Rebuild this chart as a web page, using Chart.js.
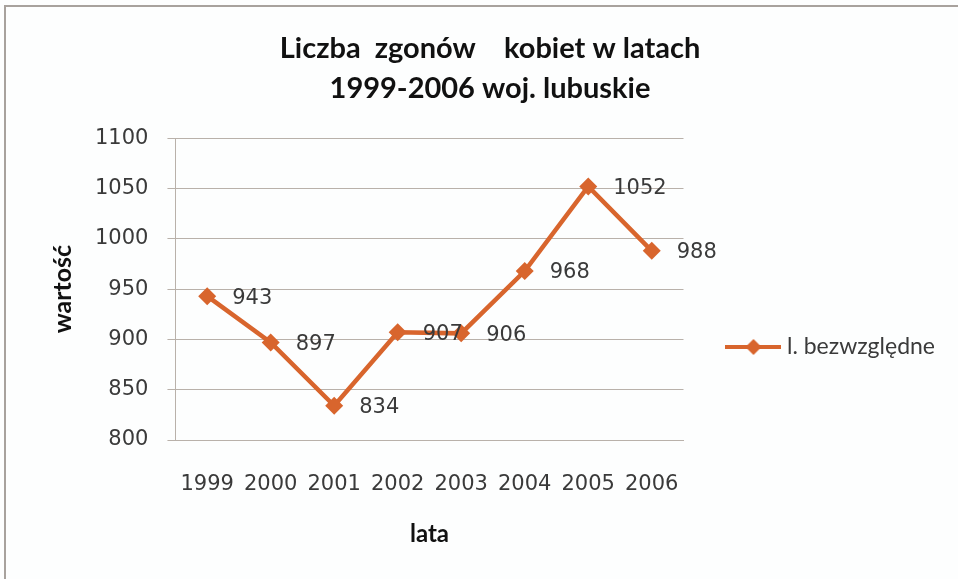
<!DOCTYPE html>
<html lang="pl">
<head>
  <meta charset="UTF-8">
  <title>Liczba zgonów kobiet</title>
  <script src="https://cdn.jsdelivr.net/npm/chart.js"></script>
  <style>
    html, body {
      margin: 0;
      padding: 0;
      background: #fdfefe;
    }
    .frame {
      position: absolute;
      left: 4px;
      top: 5px;
      width: 952px;
      height: 572px;
      border-left: 2px solid #a8a29d;
      border-top: 2px solid #a8a29d;
    }
    canvas {
      display: block;
    }
  </style>
</head>
<body>
  <div class="frame">
    <canvas id="chart" width="952" height="572"></canvas>
  </div>
  <script>
  // dane z wykresu
  const lata = ["1999", "2000", "2001", "2002", "2003", "2004", "2005", "2006"];
  const zgony = [943, 897, 834, 907, 906, 968, 1052, 988];
  const seriaNazwa = "l. bezwzględne";
  const tytul = ["Liczba  zgonów    kobiet w latach", "1999-2006 woj. lubuskie"];

  const kolor = "#d8652d";
  const siatka = "#b9b1aa";
  const tekst = "#3a3a3a";
  const numFont = "'DejaVu Sans', Verdana, sans-serif";
  const narrowFont = "'Liberation Sans Narrow', 'Arial Narrow', Lato, sans-serif";

  // znacznik legendy: linia z rombem
  function legendMarker() {
    const c = document.createElement("canvas");
    c.width = 56; c.height = 20;
    const g = c.getContext("2d");
    g.strokeStyle = kolor;
    g.lineWidth = 4;
    g.beginPath();
    g.moveTo(0, 10); g.lineTo(56, 10);
    g.stroke();
    g.fillStyle = kolor;
    g.beginPath();
    g.moveTo(28, 2); g.lineTo(36, 10); g.lineTo(28, 18); g.lineTo(20, 10);
    g.closePath();
    g.fill();
    return c;
  }

  // etykiety wartości po prawej stronie punktów
  const valueLabels = {
    id: "valueLabels",
    afterDatasetsDraw(chart) {
      const ctx = chart.ctx;
      const meta = chart.getDatasetMeta(0);
      ctx.save();
      ctx.font = "21px " + numFont;
      ctx.fillStyle = tekst;
      ctx.textAlign = "left";
      ctx.textBaseline = "middle";
      meta.data.forEach((pt, i) => {
        ctx.fillText(String(chart.data.datasets[0].data[i]), pt.x + 25, pt.y + 2);
      });
      ctx.restore();
    }
  };

  new Chart(document.getElementById("chart"), {
    type: "line",
    data: {
      labels: lata,
      datasets: [{
        label: seriaNazwa,
        data: zgony,
        borderColor: kolor,
        backgroundColor: kolor,
        borderWidth: 4.5,
        pointStyle: "rectRot",
        pointRadius: 9,
        pointBorderWidth: 0,
        tension: 0
      }]
    },
    options: {
      responsive: false,
      animation: false,
      layout: { padding: { left: 29, right: 13, top: 0, bottom: 0 } },
      plugins: {
        title: {
          display: true,
          text: tytul,
          color: "#111",
          font: { family: narrowFont, size: 29, weight: "bold", lineHeight: 1.4 },
          padding: { top: 21, bottom: 29 }
        },
        legend: {
          position: "right",
          align: "center",
          maxWidth: 400,
          title: { display: true, text: " ", font: { size: 20, lineHeight: 1.2 }, padding: { top: 84, bottom: 0 } },
          labels: {
            usePointStyle: true,
            pointStyle: legendMarker(),
            pointStyleWidth: 44,
            padding: 48,
            color: tekst,
            font: { family: "Lato, sans-serif", size: 23 }
          }
        },
        tooltip: { enabled: false }
      },
      scales: {
        x: {
          offset: true,
          grid: { display: false, drawTicks: false },
          border: { display: true, color: siatka, width: 1 },
          ticks: { color: tekst, padding: 32, maxRotation: 0, autoSkip: false, font: { family: numFont, size: 21 } },
          title: {
            display: true,
            text: "lata",
            color: "#111",
            font: { family: narrowFont, size: 24, weight: "bold" },
            padding: { top: -9, bottom: 30 }
          }
        },
        y: {
          min: 800,
          max: 1100,
          grid: { color: siatka, tickLength: 8, drawTicks: true },
          border: { display: true, color: siatka, width: 1 },
          ticks: { stepSize: 50, color: tekst, padding: 19, font: { family: numFont, size: 21 }, callback: v => String(v) },
          title: {
            display: true,
            text: "wartość",
            color: "#111",
            font: { family: narrowFont, size: 25, weight: "bold" },
            padding: { top: 13, bottom: -2 }
          }
        }
      }
    },
    plugins: [valueLabels]
  });
  </script>
</body>
</html>
